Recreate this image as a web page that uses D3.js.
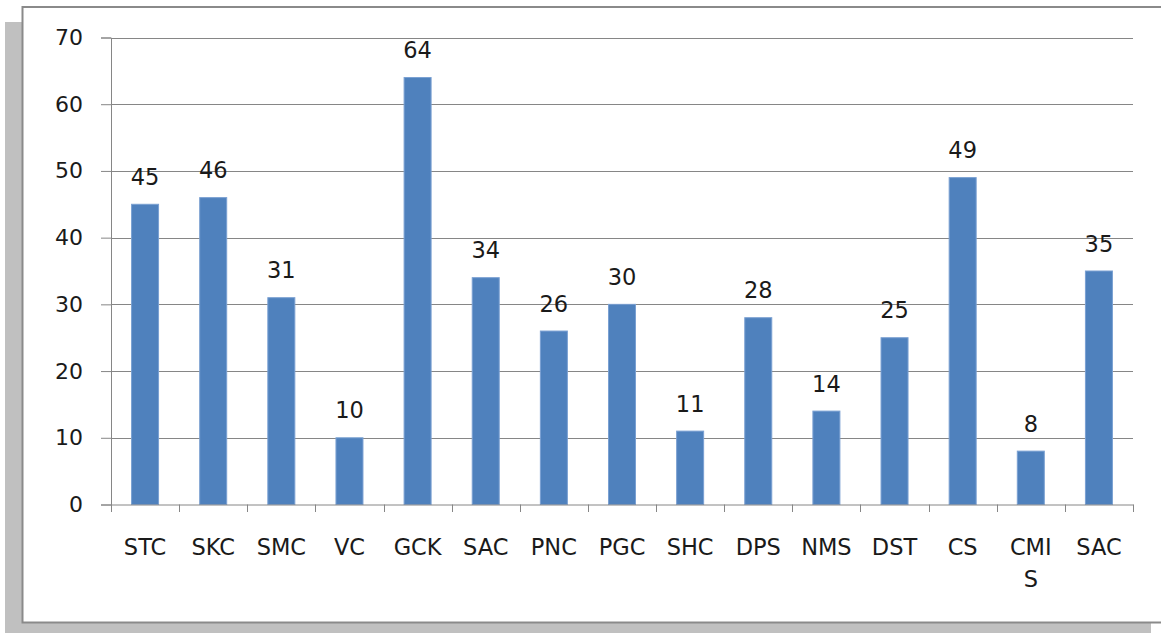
<!DOCTYPE html>
<html><head><meta charset="utf-8">
<script src="https://cdn.jsdelivr.net/npm/d3@7"></script>
<style>html,body{margin:0;padding:0;background:#fff;overflow:hidden}</style>
</head><body>
<svg id="c" width="1161" height="633"></svg>
<script>
const categories = ["STC","SKC","SMC","VC","GCK","SAC","PNC","PGC","SHC","DPS","NMS","DST","CS","CMI S","SAC"];
const values = [45,46,31,10,64,34,26,30,11,28,14,25,49,8,35];
const yTicks = [0,10,20,30,40,50,60,70];

const svg = d3.select("#c");
const font = "'DejaVu Sans', sans-serif";
// shadow and frame
svg.append("rect").attr("x",5).attr("y",22).attr("width",1146).attr("height",611).attr("fill","#c0c0c0");
svg.append("rect").attr("x",22.5).attr("y",7).attr("width",1160).attr("height",615.5)
  .attr("fill","#fff").attr("stroke","#8a8a8a").attr("stroke-width",2);

const xb = d3.scaleBand().domain(d3.range(categories.length)).range([111,1133]);
const y = d3.scaleLinear().domain([0,70]).range([504.5,37.5]);

// y axis
const ya = svg.append("g").attr("transform","translate(111,0)")
  .call(d3.axisLeft(y).tickValues(yTicks).tickSize(10).tickPadding(18).tickFormat(d3.format("d")));
ya.select(".domain").attr("stroke","#868686");
ya.selectAll(".tick line").attr("stroke","#868686");
ya.selectAll(".tick text").attr("font-family",font).attr("font-size",22).attr("fill","#1a1a1a");
// gridlines
svg.append("g").selectAll("line").data(yTicks.filter(d=>d>0)).join("line")
  .attr("x1",111).attr("x2",1133).attr("y1",d=>Math.round(y(d))+0.5).attr("y2",d=>Math.round(y(d))+0.5)
  .attr("stroke","#868686");

// bars
svg.append("g").selectAll("rect").data(values).join("rect")
  .attr("x",(d,i)=>xb(i)+xb.bandwidth()/2-13.5).attr("width",27)
  .attr("y",d=>y(d)).attr("height",d=>y(0)-y(d))
  .attr("fill","#4f81bd").attr("stroke","#7aa0d2").attr("stroke-width",1);

// x axis
const xa = svg.append("g").attr("transform","translate(0,504.5)")
  .call(d3.axisBottom(xb).tickSize(0).tickFormat(""));
xa.select(".domain").attr("stroke","#868686");
svg.append("g").selectAll("line").data(d3.range(categories.length+1)).join("line")
  .attr("x1",i=>Math.round(111+i*xb.step())+0.5).attr("x2",i=>Math.round(111+i*xb.step())+0.5)
  .attr("y1",504.5).attr("y2",512).attr("stroke","#868686");

// x labels
svg.append("g").selectAll("text").data(categories).join("text")
  .attr("x",(d,i)=>xb(i)+xb.bandwidth()/2).attr("y",555)
  .attr("text-anchor","middle").attr("font-family",font).attr("font-size",22.5).attr("fill","#1a1a1a")
  .each(function(d){
    const parts = d.split(" ");
    const t = d3.select(this);
    parts.forEach((p,j)=>t.append("tspan").attr("x",t.attr("x")).attr("dy",j?32:0).text(p));
  });

// value labels
svg.append("g").selectAll("text").data(values).join("text")
  .attr("x",(d,i)=>xb(i)+xb.bandwidth()/2).attr("y",d=>y(d)-19.5)
  .attr("text-anchor","middle").attr("font-family",font).attr("font-size",22.5).attr("fill","#1a1a1a")
  .text(d=>d);
</script>
</body></html>
